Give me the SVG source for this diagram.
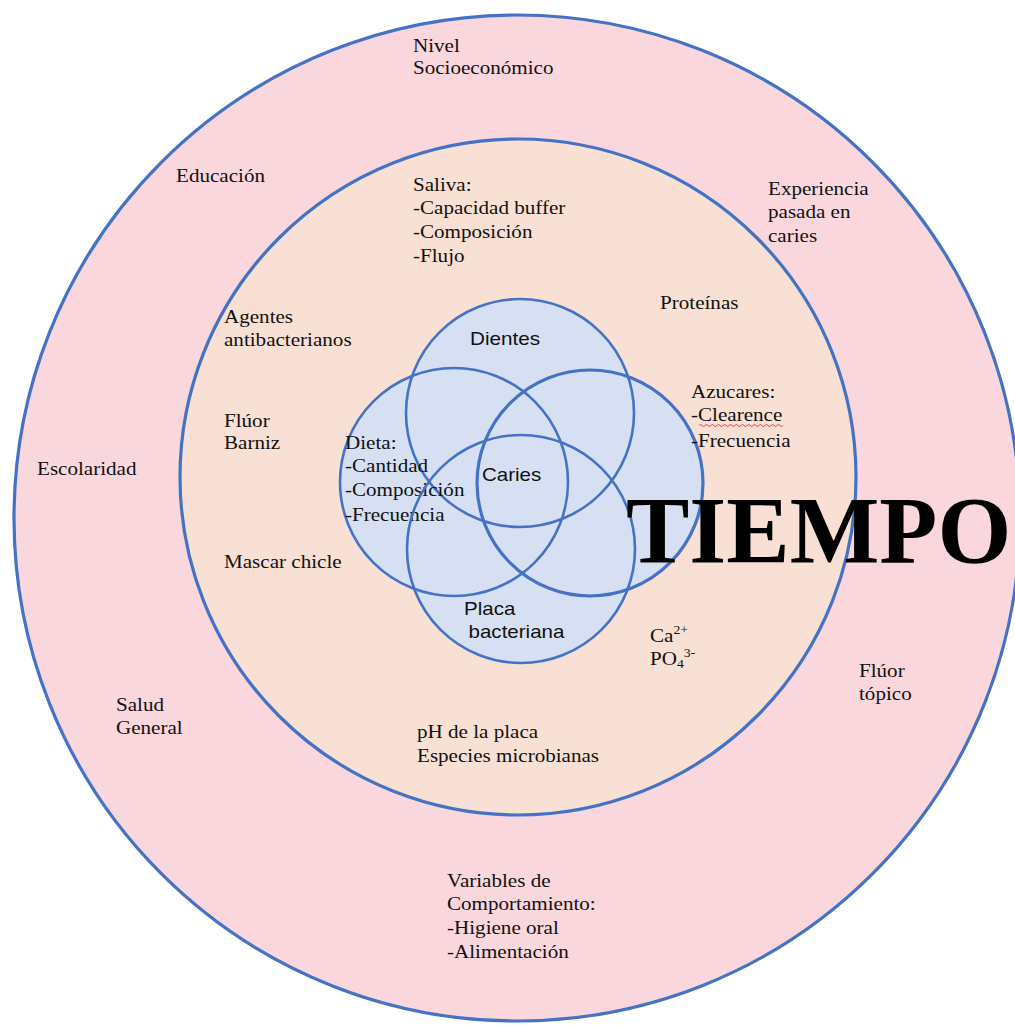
<svg xmlns="http://www.w3.org/2000/svg" width="1015" height="1025" viewBox="0 0 1015 1025">
<style>
.ring{stroke:#4472c4;stroke-width:3.2}
.vf{fill:#d6e0f2;stroke:none}
.vs{fill:none;stroke:#4472c4;stroke-width:2.6}
.t{font-family:"Liberation Serif","Times New Roman",serif;font-size:18.5px;fill:#111}
.s{font-family:"Liberation Sans",Arial,sans-serif;font-size:18px;fill:#111}
.big{font-family:"Liberation Serif","Times New Roman",serif;font-size:95px;font-weight:bold;fill:#000}
.sup{font-size:12px}
</style>
<rect width="1015" height="1025" fill="#ffffff"/>
<g id="outer-ring"><circle class="ring" cx="517" cy="518" r="503" fill="#f9d7dd"/></g>
<g id="inner-ring"><circle class="ring" cx="518" cy="477" r="338" fill="#f8e0d4"/></g>
<g id="venn">
  <g id="venn-fills">
    <circle class="vf" cx="520" cy="413" r="114"/>
    <circle class="vf" cx="454" cy="482" r="114"/>
    <circle class="vf" cx="590" cy="483" r="113"/>
    <circle class="vf" cx="521" cy="549" r="114"/>
  </g>
  <g id="node-dientes"><circle class="vs" cx="520" cy="413" r="114"/>
    <text class="s" transform="translate(470 345) scale(1.15 1)">Dientes</text></g>
  <g id="node-dieta"><circle class="vs" cx="454" cy="482" r="114"/>
    <text class="t" transform="translate(345 449) scale(1.14 1)"><tspan x="0" y="0">Dieta:</tspan><tspan x="0" y="23">-Cantidad</tspan><tspan x="0" y="47">-Composición</tspan><tspan x="0" y="72">-Frecuencia</tspan></text></g>
  <g id="node-azucares-circle"><circle class="vs" cx="590" cy="483" r="113" style="stroke-width:3.2"/></g>
  <g id="node-placa"><circle class="vs" cx="521" cy="549" r="114"/>
    <text class="s" transform="translate(464 615) scale(1.14 1)"><tspan x="0" y="0">Placa</tspan><tspan x="4" y="23">bacteriana</tspan></text></g>
  <g id="node-caries"><text class="s" transform="translate(482 481) scale(1.14 1)">Caries</text></g>
</g>
<g id="labels">
  <g id="node-nivel"><text class="t" transform="translate(413 52) scale(1.14 1)"><tspan x="0" y="0">Nivel</tspan><tspan x="0" y="22.5">Socioeconómico</tspan></text></g>
  <g id="node-educacion"><text class="t" transform="translate(176 182) scale(1.14 1)">Educación</text></g>
  <g id="node-saliva"><text class="t" transform="translate(413 191) scale(1.14 1)"><tspan x="0" y="0">Saliva:</tspan><tspan x="0" y="23.5">-Capacidad buffer</tspan><tspan x="0" y="47">-Composición</tspan><tspan x="0" y="71">-Flujo</tspan></text></g>
  <g id="node-experiencia"><text class="t" transform="translate(768 195) scale(1.14 1)"><tspan x="0" y="0">Experiencia</tspan><tspan x="0" y="23.5">pasada en</tspan><tspan x="0" y="47.5">caries</tspan></text></g>
  <g id="node-proteinas"><text class="t" transform="translate(660 309) scale(1.14 1)">Proteínas</text></g>
  <g id="node-agentes"><text class="t" transform="translate(224 323) scale(1.14 1)"><tspan x="0" y="0">Agentes</tspan><tspan x="0" y="23">antibacterianos</tspan></text></g>
  <g id="node-azucares"><text class="t" transform="translate(691 398) scale(1.14 1)"><tspan x="0" y="0">Azucares:</tspan><tspan x="0" y="23.5">-Clearence</tspan><tspan x="0" y="49">-Frecuencia</tspan></text>
    <path d="M699 425.5 q1.5 -2 3 0 t3 0 t3 0 t3 0 t3 0 t3 0 t3 0 t3 0 t3 0 t3 0 t3 0 t3 0 t3 0 t3 0 t3 0 t3 0 t3 0 t3 0 t3 0 t3 0 t3 0 t3 0 t3 0 t3 0 t3 0 t3 0 t3 0 t3 0" fill="none" stroke="#e03030" stroke-width="0.9"/></g>
  <g id="node-fluor-barniz"><text class="t" transform="translate(224 427) scale(1.14 1)"><tspan x="0" y="0">Flúor</tspan><tspan x="0" y="22.5">Barniz</tspan></text></g>
  <g id="node-escolaridad"><text class="t" transform="translate(37 475) scale(1.14 1)">Escolaridad</text></g>
  <g id="node-mascar"><text class="t" transform="translate(224 568) scale(1.14 1)">Mascar chicle</text></g>
  <g id="node-ca-po4"><text class="t" transform="translate(650 642) scale(1.14 1)"><tspan x="0" y="0">Ca</tspan><tspan class="sup" dy="-8">2+</tspan><tspan x="0" y="23">PO</tspan><tspan class="sup" dy="3">4</tspan><tspan class="sup" dy="-11">3-</tspan></text></g>
  <g id="node-fluor-topico"><text class="t" transform="translate(859 677) scale(1.14 1)"><tspan x="0" y="0">Flúor</tspan><tspan x="0" y="23">tópico</tspan></text></g>
  <g id="node-salud"><text class="t" transform="translate(116 711) scale(1.14 1)"><tspan x="0" y="0">Salud</tspan><tspan x="0" y="23">General</tspan></text></g>
  <g id="node-ph"><text class="t" transform="translate(417 738) scale(1.14 1)"><tspan x="0" y="0">pH de la placa</tspan><tspan x="0" y="24">Especies microbianas</tspan></text></g>
  <g id="node-variables"><text class="t" transform="translate(447 887) scale(1.14 1)"><tspan x="0" y="0">Variables de</tspan><tspan x="0" y="23.5">Comportamiento:</tspan><tspan x="0" y="47.5">-Higiene oral</tspan><tspan x="0" y="71">-Alimentación</tspan></text></g>
</g>
<g id="node-tiempo"><text class="big" x="626" y="563">TIEMPO</text></g>
<g id="connectors"/>
</svg>
